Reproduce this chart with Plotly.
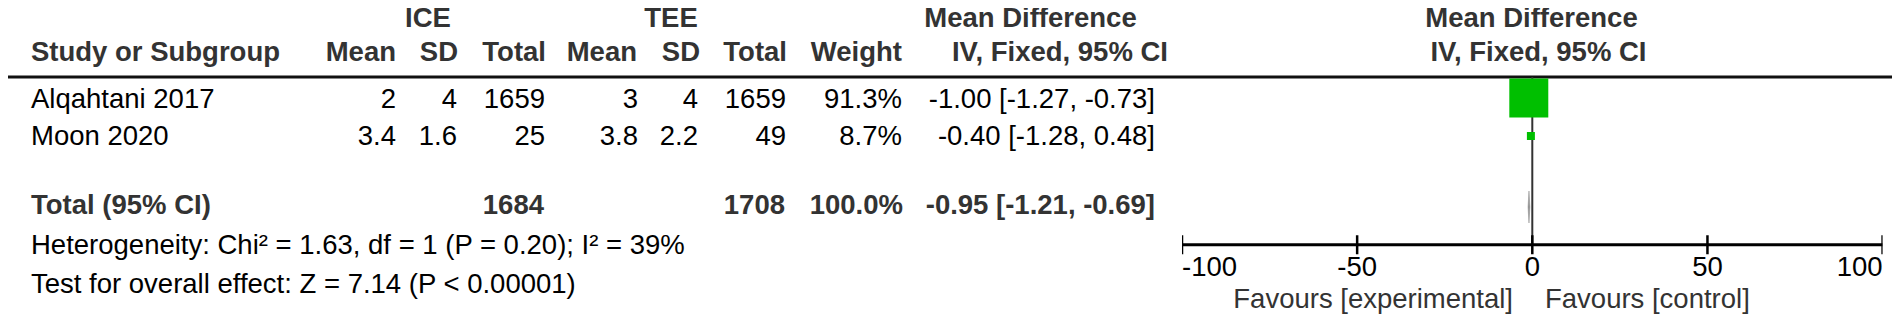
import plotly.graph_objects as go

# ---------------- data ----------------
studies = ["Alqahtani 2017", "Moon 2020"]
ice_mean = [2, 3.4]
ice_sd = [4, 1.6]
ice_n = [1659, 25]
tee_mean = [3, 3.8]
tee_sd = [4, 2.2]
tee_n = [1659, 49]
weights = [91.3, 8.7]
md = [-1.00, -0.40]
ci_lo = [-1.27, -1.28]
ci_hi = [-0.73, 0.48]

total_ice_n = 1684
total_tee_n = 1708
total_weight = 100.0
pooled_md = -0.95
pooled_lo = -1.21
pooled_hi = -0.69

chi2 = 1.63
het_df = 1
het_p = "0.20"
i2 = 39
z_val = 7.14
z_p = "< 0.00001"

tick_vals = [-100, -50, 0, 50, 100]
group_labels = ["ICE", "TEE"]
col_headers = ["Mean", "SD", "Total", "Mean", "SD", "Total", "Weight"]
fav_left = "Favours [experimental]"
fav_right = "Favours [control]"

# ---------------- layout constants (pixels) ----------------
W, H = 1900, 314
X0_PX, X1_PX = 1174, 1874.6
XMIN, XMAX = -100, 100

FONT = "Liberation Sans, Arial, sans-serif"
FS = 27.5
TEXT_DY = -4.3  # scatter text glyph centre sits ~4px below its anchor point
DARK = "#333333"
GREEN = "#00BF00"

HDR1_Y, HDR2_Y, LINE_Y = 16.0, 50, 69
ROW_Y = [97, 134.5]
MARK_Y = [90, 128]
TOTAL_Y = 203.5
DIAMOND_Y = 199
HET_Y, TEST_Y = 243, 282.5
AXIS_Y = 236.7
TICK_HALF = 9.5
TICKLBL_Y = 265.5
FAV_Y = 297

COL_RIGHT = [388, 449, 537, 630, 690, 778, 894]
HDR_RIGHT = [388, 450, 538, 629, 692, 779, 894]
CI_RIGHT = 1147

fig = go.Figure()


def add_text(texts, xs, ys, pos, bold=False, color="black", axis="x"):
    if not isinstance(pos, list):
        pos = [pos] * len(texts)
    fig.add_trace(go.Scatter(
        x=xs, y=[y + TEXT_DY for y in ys], xaxis=axis, yaxis="y",
        mode="text",
        text=[f"<b>{t}</b>" if bold else t for t in texts],
        textposition=pos,
        textfont=dict(family=FONT, size=FS, color=color),
        cliponaxis=False, hoverinfo="skip", showlegend=False,
    ))


def fmt(v):
    return f"{v:g}"


# ---------------- forest marks (x2 = mean difference scale) ----------------
fig.add_trace(go.Scatter(x=[0, 0], y=[LINE_Y, AXIS_Y], xaxis="x2", yaxis="y",
                         mode="lines", line=dict(color=DARK, width=2), hoverinfo="skip"))

tx, ty = [], []
for t in tick_vals:
    tx += [t, t, None]
    ty += [AXIS_Y - TICK_HALF, AXIS_Y + TICK_HALF, None]
fig.add_trace(go.Scatter(x=tx, y=ty, xaxis="x2", yaxis="y", mode="lines",
                         line=dict(color="black", width=2.5), hoverinfo="skip"))
fig.add_trace(go.Scatter(x=[XMIN, XMAX], y=[AXIS_Y, AXIS_Y], xaxis="x2", yaxis="y",
                         mode="lines", line=dict(color="black", width=3), hoverinfo="skip"))

cx, cy = [], []
for i in range(len(studies)):
    cx += [ci_lo[i], ci_hi[i], None]
    cy += [MARK_Y[i]] * 2 + [None]
fig.add_trace(go.Scatter(x=cx, y=cy, xaxis="x2", yaxis="y", mode="lines",
                         line=dict(color="black", width=1.5), hoverinfo="skip"))

sizes = [max(8, 0.427 * w) for w in weights]
fig.add_trace(go.Scatter(x=md, y=MARK_Y, xaxis="x2", yaxis="y", mode="markers",
                         marker=dict(symbol="square", size=sizes, color=GREEN,
                                     opacity=1, line=dict(width=0)),
                         hoverinfo="skip"))

fig.add_trace(go.Scatter(x=[pooled_lo, pooled_md, pooled_hi, pooled_md, pooled_lo],
                         y=[DIAMOND_Y, DIAMOND_Y - 16, DIAMOND_Y, DIAMOND_Y + 16, DIAMOND_Y],
                         xaxis="x2", yaxis="y",
                         mode="lines", fill="toself", fillcolor="#888888",
                         line=dict(color="#999999", width=0.6), hoverinfo="skip"))

# ---------------- table text ----------------
# header row 1
add_text(group_labels + ["Mean Difference", "Mean Difference"],
         [420, 663, 1022.5, 1523.5], [HDR1_Y] * 4, "middle center", True, DARK)
# header row 2
add_text(["Study or Subgroup"], [23], [HDR2_Y], "middle right", True, DARK)
add_text(col_headers, HDR_RIGHT, [HDR2_Y] * len(col_headers), "middle left", True, DARK)
add_text(["IV, Fixed, 95% CI", "IV, Fixed, 95% CI"], [1052, 1530.5], [HDR2_Y] * 2,
         "middle center", True, DARK)

# study rows
add_text(studies, [23] * len(studies), ROW_Y, "middle right")
for i in range(len(studies)):
    vals = [fmt(ice_mean[i]), fmt(ice_sd[i]), str(ice_n[i]),
            fmt(tee_mean[i]), fmt(tee_sd[i]), str(tee_n[i]),
            f"{weights[i]:.1f}%",
            f"{md[i]:.2f} [{ci_lo[i]:.2f}, {ci_hi[i]:.2f}]"]
    add_text(vals, COL_RIGHT + [CI_RIGHT], [ROW_Y[i]] * len(vals), "middle left")

# total row
add_text(["Total (95% CI)"], [23], [TOTAL_Y], "middle right", True, DARK)
add_text([str(total_ice_n), str(total_tee_n), f"{total_weight:.1f}%",
          f"{pooled_md:.2f} [{pooled_lo:.2f}, {pooled_hi:.2f}]"],
         [536, 777, 895, CI_RIGHT], [TOTAL_Y] * 4, "middle left", True, DARK)

# heterogeneity / overall effect
add_text([f"Heterogeneity: Chi² = {chi2:.2f}, df = {het_df} (P = {het_p}); I² = {i2}%",
          f"Test for overall effect: Z = {z_val:.2f} (P {z_p})"],
         [23, 23], [HET_Y, TEST_Y], "middle right")

# tick labels through the forest x axis
tpos = ["middle right"] + ["middle center"] * (len(tick_vals) - 2) + ["middle left"]
add_text([str(t) for t in tick_vals], tick_vals, [TICKLBL_Y] * len(tick_vals), tpos,
         axis="x2")

# favours
add_text([fav_left, fav_right], [1505, 1537], [FAV_Y, FAV_Y],
         ["middle left", "middle right"], False, DARK)

shapes = [dict(type="line", xref="paper", yref="y", x0=0, x1=1, y0=LINE_Y, y1=LINE_Y,
               line=dict(color="#111111", width=3), layer="below")]

fig.update_layout(
    width=W, height=H,
    margin=dict(l=0, r=0, t=0, b=0),
    paper_bgcolor="white", plot_bgcolor="rgba(0,0,0,0)",
    showlegend=False,
    xaxis=dict(domain=[0, 1], range=[0, W], visible=False, fixedrange=True, anchor="y"),
    xaxis2=dict(domain=[X0_PX / W, X1_PX / W], range=[XMIN, XMAX], visible=False,
                fixedrange=True, anchor="y"),
    yaxis=dict(domain=[0, 1], range=[H, 0], visible=False, fixedrange=True),
    shapes=shapes,
)

fig.write_html("out.html")
